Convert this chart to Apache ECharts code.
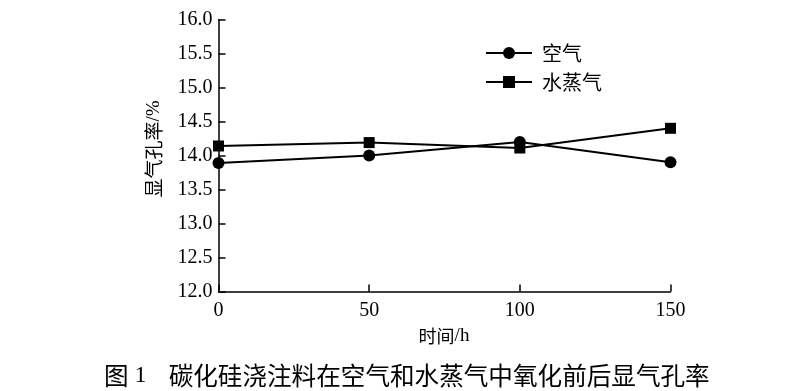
<!DOCTYPE html>
<html><head><meta charset="utf-8">
<script src="https://cdn.jsdelivr.net/npm/echarts@6/dist/echarts.min.js"></script>
<style>html,body{margin:0;padding:0;background:#fff}#c{width:799px;height:391px}</style>
</head><body><div id="c"></div>
<script>
const times = [0, 50, 100, 150];
const airValues = [13.89, 14.0, 14.2, 13.9];
const steamValues = [14.14, 14.19, 14.11, 14.4];
const seriesNames = ['空气', '水蒸气'];
const yTicks = [12.0, 12.5, 13.0, 13.5, 14.0, 14.5, 15.0, 15.5, 16.0];
const xTicks = [0, 50, 100, 150];

const serif = '"Liberation Serif","Times New Roman",serif';
const cjk = '"Noto Sans CJK SC","Noto Sans",sans-serif';

const chart = echarts.init(document.getElementById('c'), null, {renderer: 'canvas'});
chart.setOption({
  animation: false,
  backgroundColor: '#fff',
  grid: {left: 218.5, right: 128.5, top: 19.5, bottom: 99.5, containLabel: false},
  legend: {
    left: 480, top: 38, orient: 'vertical',
    itemWidth: 46, itemHeight: 15, itemGap: 9,
    data: seriesNames,
    textStyle: {fontFamily: cjk, fontSize: 20, color: '#000', padding: [0, 0, 0, 5]}
  },
  xAxis: {
    type: 'value', min: xTicks[0], max: xTicks[xTicks.length - 1], interval: 50,
    axisLine: {lineStyle: {color: '#000', width: 1.5}},
    axisTick: {inside: true, length: 7, lineStyle: {color: '#000', width: 1.5}},
    axisLabel: {fontFamily: serif, fontSize: 20, color: '#000', margin: 9},
    splitLine: {show: false}
  },
  yAxis: {
    type: 'value', min: yTicks[0], max: yTicks[yTicks.length - 1], interval: 0.5,
    axisLine: {show: true, lineStyle: {color: '#000', width: 1.5}},
    axisTick: {show: true, inside: true, length: 7, lineStyle: {color: '#000', width: 1.5}},
    axisLabel: {fontFamily: serif, fontSize: 20, color: '#000', margin: 6,
      formatter: v => v.toFixed(1)},
    splitLine: {show: false}
  },
  series: [
    {name: seriesNames[0], type: 'line', data: times.map((t, i) => [t, airValues[i]]),
      symbol: 'circle', symbolSize: 12,
      lineStyle: {color: '#000', width: 2}, itemStyle: {color: '#000'}},
    {name: seriesNames[1], type: 'line', data: times.map((t, i) => [t, steamValues[i]]),
      symbol: 'rect', symbolSize: 11,
      lineStyle: {color: '#000', width: 2}, itemStyle: {color: '#000'}}
  ],
  graphic: [
    {type: 'text', x: 154, y: 149, rotation: Math.PI / 2,
      style: {text: '{a|显气孔率}{b|/%}', align: 'center', verticalAlign: 'middle',
        rich: {a: {fontFamily: cjk, fontSize: 19, fill: '#000'}, b: {fontFamily: serif, fontSize: 19, fill: '#000'}}}},
    {type: 'text', x: 444, y: 336,
      style: {text: '{a|时间}{b|/h}', align: 'center', verticalAlign: 'middle',
        rich: {a: {fontFamily: cjk, fontSize: 18, fill: '#000'}, b: {fontFamily: serif, fontSize: 19, fill: '#000'}}}},
    {type: 'text', x: 104, y: 376,
      style: {text: '{a|图}{b| 1}{a|    碳化硅浇注料在空气和水蒸气中氧化前后显气孔率}', verticalAlign: 'middle', align: 'left',
        rich: {a: {fontFamily: cjk, fontSize: 24.6, fill: '#000'}, b: {fontFamily: serif, fontSize: 24, fill: '#000'}}}}
  ]
});
</script></body></html>
